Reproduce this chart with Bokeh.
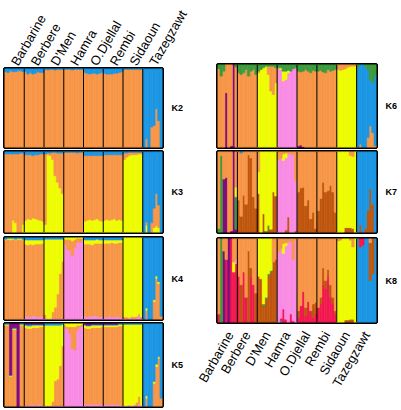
import math
import numpy as np
from bokeh.plotting import figure
from bokeh.models import ColumnDataSource, LinearAxis, FixedTicker, Range1d
from bokeh.layouts import row, column
from bokeh.embed import file_html
from bokeh.resources import INLINE

populations = ["Barbarine", "Berbere", "D'Men", "Hamra", "O.Djellal", "Rembi", "Sidaoun", "Tazegzawt"]
individuals_per_population = [8, 8, 8, 8, 8, 8, 8, 8]

ORANGE = "#F79646"
BLUE = "#1B96E3"
YELLOW = "#EEFC00"
PINK = "#F98BE4"
PURPLE = "#7E0B80"
GREEN = "#3C9A3C"
BROWN = "#BF560D"
RED = "#F2184F"

# ---------------- K2 (stack order bottom -> top: orange, blue)
k2_orange = [
    96, 95, 97, 96, 96, 97, 97, 96,
    96, 93, 95, 93, 94, 96, 95, 95,
    99, 98, 99, 99, 98, 99, 99, 99,
    99, 99, 99, 98, 99, 99, 99, 99,
    95, 94, 93, 94, 94, 93, 94, 95,
    94, 93, 93, 93, 94, 94, 95, 96,
    99, 99, 99, 99, 99, 99, 99, 99,
    0, 11, 0, 26, 28, 49, 34, 0,
]
k2_blue = [
    4, 5, 3, 4, 4, 3, 3, 4,
    4, 7, 5, 7, 6, 4, 5, 5,
    1, 2, 1, 1, 2, 1, 1, 1,
    1, 1, 1, 2, 1, 1, 1, 1,
    5, 6, 7, 6, 6, 7, 6, 5,
    6, 7, 7, 7, 6, 6, 5, 4,
    1, 1, 1, 1, 1, 1, 1, 1,
    100, 89, 100, 74, 72, 51, 66, 100,
]

# ---------------- K3 (yellow, orange, blue)
k3_yellow = [
    0, 0, 0, 15, 12, 0, 0, 10,
    15, 17, 16, 18, 17, 16, 15, 14,
    10, 96, 95, 90, 70, 62, 55, 48,
    0, 0, 0, 0, 0, 0, 0, 0,
    14, 15, 16, 15, 16, 17, 15, 14,
    15, 16, 15, 16, 17, 15, 16, 15,
    90, 93, 95, 96, 96, 96, 97, 97,
    0, 9, 0, 0, 6, 8, 6, 0,
]
k3_orange = [
    97, 97, 97, 82, 85, 97, 98, 88,
    81, 79, 80, 77, 79, 80, 82, 83,
    87, 2, 3, 9, 29, 36, 43, 50,
    99, 99, 99, 99, 99, 98, 99, 99,
    81, 80, 79, 80, 79, 78, 80, 81,
    81, 80, 81, 80, 79, 81, 80, 81,
    8, 5, 4, 3, 3, 3, 2, 2,
    0, 4, 0, 12, 24, 40, 28, 0,
]
k3_blue = [
    3, 3, 3, 3, 3, 3, 2, 2,
    4, 4, 4, 5, 4, 4, 3, 3,
    3, 2, 2, 1, 1, 2, 2, 2,
    1, 1, 1, 1, 1, 2, 1, 1,
    5, 5, 5, 5, 5, 5, 5, 5,
    4, 4, 4, 4, 4, 4, 4, 4,
    2, 2, 1, 1, 1, 1, 1, 1,
    100, 87, 100, 88, 70, 52, 66, 100,
]

# ---------------- K4 (pink, orange, yellow, blue)
k4_pink = [
    0, 0, 0, 0, 0, 0, 0, 0,
    4, 4, 3, 5, 4, 3, 4, 3,
    1, 1, 1, 1, 1, 1, 1, 1,
    92, 86, 84, 78, 88, 94, 94, 96,
    4, 3, 4, 4, 5, 4, 3, 4,
    3, 3, 4, 3, 3, 4, 3, 2,
    1, 1, 1, 2, 1, 2, 5, 1,
    0, 1, 0, 0, 0, 0, 0, 0,
]
k4_orange = [
    97, 98, 97, 98, 97, 98, 98, 97,
    88, 87, 89, 86, 88, 89, 88, 90,
    5, 0, 0, 8, 14, 30, 55, 70,
    6, 12, 14, 18, 10, 5, 5, 3,
    88, 89, 88, 87, 88, 89, 90, 89,
    90, 90, 89, 91, 90, 89, 91, 92,
    2, 2, 1, 2, 2, 2, 2, 2,
    0, 10, 0, 0, 22, 50, 44, 4,
]
k4_yellow = [
    1, 1, 2, 1, 1, 1, 1, 1,
    5, 6, 5, 6, 5, 5, 5, 4,
    92, 97, 97, 89, 83, 67, 42, 27,
    2, 2, 2, 4, 2, 1, 1, 1,
    5, 5, 5, 6, 4, 5, 4, 4,
    4, 4, 4, 3, 4, 4, 3, 3,
    97, 97, 98, 96, 97, 96, 93, 97,
    0, 3, 0, 0, 2, 3, 2, 0,
]
k4_blue = [
    2, 1, 1, 1, 2, 1, 1, 2,
    3, 3, 3, 3, 3, 3, 3, 3,
    2, 2, 2, 2, 2, 2, 2, 2,
    0, 0, 0, 0, 0, 0, 0, 0,
    3, 3, 3, 3, 3, 2, 3, 3,
    3, 3, 3, 3, 3, 3, 3, 3,
    0, 0, 0, 0, 0, 0, 0, 0,
    100, 86, 100, 100, 76, 47, 54, 96,
]

# ---------------- K5 (pink, orange, yellow, blue, purple)
k5_pink = [
    0, 0, 0, 0, 0, 0, 0, 0,
    2, 1, 2, 2, 1, 2, 2, 1,
    1, 1, 1, 1, 1, 1, 1, 1,
    96, 94, 88, 70, 68, 92, 96, 97,
    3, 2, 3, 3, 2, 3, 2, 3,
    2, 2, 2, 3, 2, 2, 2, 2,
    1, 1, 2, 1, 2, 1, 3, 1,
    0, 0, 0, 0, 0, 0, 0, 0,
]
k5_orange = [
    98, 98, 36, 93, 93, 0, 98, 98,
    93, 93, 92, 93, 94, 93, 94, 95,
    0, 0, 0, 5, 30, 32, 48, 72,
    2, 2, 8, 26, 28, 6, 2, 2,
    92, 92, 91, 92, 93, 92, 93, 93,
    94, 94, 94, 93, 94, 94, 95, 95,
    0, 0, 0, 0, 0, 4, 9, 0,
    0, 10, 0, 0, 28, 48, 58, 10,
]
k5_yellow = [
    1, 1, 1, 1, 1, 0, 1, 1,
    3, 3, 3, 3, 3, 3, 2, 2,
    97, 97, 97, 92, 67, 65, 49, 26,
    2, 4, 4, 4, 4, 2, 2, 1,
    3, 3, 3, 3, 3, 3, 3, 2,
    2, 2, 2, 2, 2, 2, 2, 2,
    98, 98, 97, 98, 97, 94, 87, 98,
    0, 3, 0, 0, 2, 3, 2, 0,
]
k5_blue = [
    1, 1, 1, 1, 1, 0, 1, 1,
    1, 2, 2, 1, 1, 1, 1, 1,
    2, 2, 2, 2, 2, 2, 2, 1,
    0, 0, 0, 0, 0, 0, 0, 0,
    1, 1, 1, 1, 1, 1, 1, 1,
    1, 1, 1, 1, 1, 1, 1, 1,
    1, 1, 1, 1, 1, 1, 1, 1,
    100, 87, 100, 100, 70, 49, 40, 90,
]
k5_purple = [
    0, 0, 62, 5, 5, 100, 0, 0,
    1, 1, 1, 1, 1, 1, 1, 1,
    0, 0, 0, 0, 0, 0, 0, 0,
    0, 0, 0, 0, 0, 0, 0, 0,
    1, 2, 2, 1, 1, 1, 1, 1,
    1, 1, 1, 1, 1, 1, 0, 0,
    0, 0, 0, 0, 0, 0, 0, 0,
    0, 0, 0, 0, 0, 0, 0, 0,
]

# ---------------- K6 (purple, pink, yellow, orange, blue, green)
k6_purple = [
    0, 0, 0, 66, 0, 2, 100, 0,
    0, 0, 0, 0, 0, 0, 0, 0,
    0, 0, 0, 0, 0, 0, 0, 0,
    0, 0, 0, 0, 0, 0, 0, 0,
    2, 3, 1, 0, 0, 0, 0, 0,
    0, 0, 0, 0, 0, 0, 0, 0,
    0, 0, 0, 0, 0, 0, 0, 0,
    0, 0, 0, 0, 0, 0, 0, 0,
]
k6_pink = [
    0, 0, 0, 0, 0, 0, 0, 0,
    0, 0, 0, 0, 0, 0, 0, 0,
    0, 0, 0, 0, 0, 0, 0, 0,
    96, 94, 80, 82, 90, 92, 95, 96,
    0, 0, 0, 0, 0, 0, 0, 0,
    0, 0, 0, 0, 0, 0, 0, 0,
    0, 0, 0, 0, 0, 0, 0, 0,
    0, 0, 0, 0, 0, 0, 0, 0,
]
k6_yellow = [
    0, 0, 0, 0, 0, 0, 0, 0,
    0, 0, 0, 0, 0, 0, 0, 0,
    90, 94, 96, 98, 88, 68, 64, 78,
    0, 2, 12, 10, 3, 0, 0, 0,
    0, 0, 0, 0, 0, 0, 0, 0,
    0, 0, 0, 0, 0, 0, 0, 0,
    94, 93, 94, 95, 97, 98, 98, 98,
    0, 0, 0, 0, 0, 0, 0, 0,
]
k6_orange = [
    95, 86, 92, 34, 100, 98, 0, 97,
    90, 88, 90, 94, 86, 92, 94, 88,
    2, 0, 0, 0, 10, 30, 34, 18,
    0, 0, 0, 0, 0, 0, 0, 0,
    90, 88, 91, 94, 92, 90, 93, 92,
    92, 93, 91, 90, 94, 92, 93, 94,
    6, 7, 6, 5, 3, 2, 2, 2,
    0, 4, 0, 0, 12, 26, 18, 2,
]
k6_blue = [
    0, 0, 0, 0, 0, 0, 0, 0,
    0, 0, 0, 0, 0, 0, 0, 0,
    0, 0, 0, 0, 0, 0, 0, 0,
    0, 0, 0, 0, 0, 0, 0, 0,
    0, 0, 0, 0, 0, 0, 0, 0,
    0, 0, 0, 0, 0, 0, 0, 0,
    0, 0, 0, 0, 0, 0, 0, 0,
    96, 96, 100, 98, 82, 56, 60, 84,
]
k6_green = [
    5, 14, 8, 0, 0, 0, 0, 3,
    10, 12, 10, 6, 14, 8, 6, 12,
    8, 6, 4, 2, 2, 2, 2, 4,
    4, 4, 8, 8, 7, 8, 5, 4,
    8, 9, 8, 6, 8, 10, 7, 8,
    8, 7, 9, 10, 6, 8, 7, 6,
    0, 0, 0, 0, 0, 0, 0, 0,
    4, 0, 0, 2, 6, 18, 22, 14,
]

# ---------------- K7 (brown, purple, green, pink, yellow, orange, blue)
k7_brown = [
    0, 0, 0, 0, 0, 0, 0, 0,
    40, 20, 46, 35, 96, 92, 44, 30,
    48, 0, 23, 0, 5, 4, 50, 45,
    0, 0, 0, 3, 19, 0, 0, 2,
    50, 55, 56, 33, 40, 17, 25, 5,
    27, 42, 62, 50, 52, 58, 50, 25,
    0, 0, 0, 6, 6, 6, 5, 0,
    0, 10, 0, 5, 27, 54, 35, 0,
]
k7_purple = [
    0, 0, 66, 68, 0, 2, 100, 4,
    0, 0, 0, 0, 0, 0, 0, 0,
    0, 0, 0, 0, 0, 0, 0, 0,
    0, 0, 0, 0, 0, 0, 0, 0,
    0, 0, 0, 0, 0, 0, 0, 0,
    0, 0, 0, 0, 0, 0, 0, 0,
    0, 0, 0, 0, 0, 0, 0, 0,
    0, 0, 0, 0, 0, 0, 0, 0,
]
k7_green = [
    5, 95, 0, 0, 0, 0, 0, 40,
    0, 0, 0, 0, 0, 0, 0, 0,
    0, 0, 0, 2, 4, 0, 0, 0,
    0, 0, 0, 0, 0, 0, 0, 0,
    0, 0, 0, 0, 0, 0, 0, 0,
    0, 0, 0, 0, 0, 0, 0, 0,
    0, 0, 0, 0, 0, 0, 0, 0,
    0, 0, 0, 0, 0, 0, 0, 0,
]
k7_pink = [
    0, 0, 0, 0, 0, 0, 0, 0,
    0, 0, 0, 0, 0, 0, 0, 0,
    0, 0, 0, 0, 0, 0, 0, 0,
    90, 92, 89, 89, 79, 97, 96, 62,
    0, 0, 0, 0, 0, 0, 0, 0,
    0, 0, 0, 0, 0, 0, 0, 0,
    0, 0, 0, 0, 0, 0, 0, 0,
    0, 0, 0, 0, 0, 0, 0, 0,
]
k7_yellow = [
    0, 0, 0, 0, 0, 0, 0, 12,
    0, 0, 0, 0, 0, 0, 0, 0,
    27, 100, 77, 98, 91, 96, 50, 55,
    0, 0, 8, 6, 0, 0, 0, 0,
    0, 0, 0, 0, 0, 0, 0, 0,
    0, 0, 0, 0, 0, 0, 0, 0,
    100, 100, 100, 94, 94, 89, 89, 100,
    0, 0, 0, 0, 0, 0, 0, 0,
]
k7_orange = [
    95, 5, 34, 32, 100, 98, 0, 44,
    60, 78, 54, 65, 4, 8, 56, 70,
    25, 0, 0, 0, 0, 0, 0, 0,
    10, 8, 3, 2, 2, 3, 4, 36,
    50, 45, 44, 67, 60, 83, 75, 95,
    73, 58, 38, 50, 48, 42, 50, 75,
    0, 0, 0, 0, 0, 5, 6, 0,
    0, 0, 0, 0, 0, 0, 0, 0,
]
k7_blue = [
    0, 0, 0, 0, 0, 0, 0, 0,
    0, 2, 0, 0, 0, 0, 0, 0,
    0, 0, 0, 0, 0, 0, 0, 0,
    0, 0, 0, 0, 0, 0, 0, 0,
    0, 0, 0, 0, 0, 0, 0, 0,
    0, 0, 0, 0, 0, 0, 0, 0,
    0, 0, 0, 0, 0, 0, 0, 0,
    100, 90, 100, 95, 73, 46, 65, 100,
]

# ---------------- K8 (blue, red, brown, purple, green, pink, yellow, orange)
k8_blue = [
    0, 0, 0, 0, 0, 0, 0, 0,
    0, 0, 0, 0, 0, 0, 0, 0,
    0, 0, 0, 0, 0, 0, 0, 0,
    0, 2, 0, 0, 0, 0, 0, 0,
    0, 0, 0, 0, 0, 0, 0, 0,
    0, 0, 0, 0, 0, 0, 0, 0,
    0, 0, 0, 0, 0, 0, 0, 0,
    100, 90, 92, 100, 100, 50, 58, 100,
]
k8_red = [
    10, 0, 0, 75, 0, 100, 60, 70,
    55, 0, 60, 30, 0, 55, 45, 0,
    0, 0, 0, 0, 0, 0, 0, 0,
    0, 3, 16, 4, 0, 10, 2, 0,
    6, 20, 37, 8, 25, 14, 6, 10,
    18, 22, 45, 40, 55, 30, 22, 10,
    0, 0, 0, 0, 0, 0, 0, 0,
    0, 10, 8, 0, 0, 0, 0, 0,
]
k8_brown = [
    0, 0, 0, 0, 0, 0, 0, 0,
    0, 45, 0, 0, 85, 10, 0, 35,
    55, 52, 20, 28, 55, 60, 72, 75,
    0, 0, 0, 0, 0, 0, 0, 0,
    8, 0, 0, 10, 0, 0, 16, 14,
    0, 8, 20, 10, 8, 15, 8, 4,
    0, 0, 0, 3, 3, 4, 4, 0,
    0, 0, 0, 0, 0, 45, 42, 0,
]
k8_purple = [
    0, 0, 85, 0, 100, 0, 0, 0,
    0, 0, 0, 0, 0, 0, 0, 0,
    0, 0, 0, 0, 0, 0, 0, 0,
    0, 0, 0, 0, 0, 0, 0, 0,
    0, 0, 0, 0, 0, 0, 0, 0,
    0, 0, 0, 0, 0, 0, 0, 0,
    0, 0, 0, 0, 0, 0, 0, 0,
    0, 0, 0, 0, 0, 0, 0, 0,
]
k8_green = [
    0, 100, 0, 0, 0, 0, 0, 0,
    0, 0, 0, 0, 0, 0, 0, 0,
    0, 0, 2, 2, 3, 2, 0, 0,
    0, 0, 0, 0, 0, 0, 0, 0,
    0, 0, 0, 0, 0, 0, 0, 0,
    0, 0, 0, 0, 0, 0, 0, 0,
    0, 0, 0, 0, 0, 0, 0, 0,
    0, 0, 0, 0, 0, 0, 0, 0,
]
k8_pink = [
    0, 0, 0, 0, 0, 0, 0, 5,
    0, 0, 0, 0, 0, 0, 0, 0,
    0, 0, 0, 0, 0, 0, 0, 0,
    84, 83, 66, 87, 96, 86, 73, 98,
    0, 0, 0, 0, 0, 0, 0, 0,
    0, 0, 0, 0, 0, 0, 0, 0,
    0, 0, 0, 0, 0, 0, 0, 0,
    0, 0, 0, 0, 0, 0, 0, 0,
]
k8_yellow = [
    0, 0, 0, 0, 0, 0, 12, 0,
    0, 0, 0, 0, 0, 0, 0, 0,
    45, 48, 78, 70, 42, 38, 0, 0,
    0, 0, 12, 4, 0, 0, 0, 0,
    0, 0, 0, 0, 0, 0, 0, 0,
    0, 0, 0, 0, 0, 0, 0, 0,
    97, 98, 100, 97, 97, 94, 86, 100,
    0, 0, 0, 0, 0, 0, 0, 0,
]
k8_orange = [
    90, 0, 15, 25, 0, 0, 28, 25,
    45, 55, 40, 70, 15, 35, 55, 65,
    0, 0, 0, 0, 0, 0, 28, 25,
    16, 12, 6, 5, 4, 4, 25, 2,
    86, 80, 63, 82, 75, 86, 78, 76,
    82, 70, 35, 50, 37, 55, 70, 86,
    3, 2, 0, 0, 0, 2, 10, 0,
    0, 0, 0, 0, 0, 5, 0, 0,
]

panels = {
    "K2": ([k2_orange, k2_blue], [ORANGE, BLUE]),
    "K3": ([k3_yellow, k3_orange, k3_blue], [YELLOW, ORANGE, BLUE]),
    "K4": ([k4_pink, k4_orange, k4_yellow, k4_blue], [PINK, ORANGE, YELLOW, BLUE]),
    "K5": ([k5_pink, k5_orange, k5_yellow, k5_blue, k5_purple], [PINK, ORANGE, YELLOW, BLUE, PURPLE]),
    "K6": ([k6_purple, k6_pink, k6_yellow, k6_orange, k6_blue, k6_green],
           [PURPLE, PINK, YELLOW, ORANGE, BLUE, GREEN]),
    "K7": ([k7_brown, k7_purple, k7_green, k7_pink, k7_yellow, k7_orange, k7_blue],
           [BROWN, PURPLE, GREEN, PINK, YELLOW, ORANGE, BLUE]),
    "K8": ([k8_blue, k8_red, k8_brown, k8_purple, k8_green, k8_pink, k8_yellow, k8_orange],
           [BLUE, RED, BROWN, PURPLE, GREEN, PINK, YELLOW, ORANGE]),
}

LABEL_FONT = "Liberation Sans"


def pop_axis(standoff):
    counts = np.array(individuals_per_population)
    ends = np.cumsum(counts)
    centers = [int(e - c // 2) for e, c in zip(ends, counts)]
    ax = LinearAxis(ticker=FixedTicker(ticks=centers),
                    major_label_overrides={c: name for c, name in zip(centers, populations)})
    ax.axis_line_color = None
    ax.major_tick_line_color = None
    ax.minor_tick_line_color = None
    ax.major_tick_out = 0
    ax.major_tick_in = 0
    ax.minor_tick_out = 0
    ax.minor_tick_in = 0
    ax.major_label_standoff = standoff
    ax.major_label_orientation = math.radians(60)
    ax.major_label_text_font = LABEL_FONT
    ax.major_label_text_font_size = "13px"
    ax.major_label_text_color = "black"
    return ax


def make_panel(label, width, height, mb_left, mb_right, mb_top, mb_bottom, pop_loc=None,
               pop_standoff=4, standoff=9):
    clusters, colors = panels[label]
    n = int(sum(individuals_per_population))
    arr = np.array(clusters, dtype=float)
    q = arr / arr.sum(axis=0)
    tops = np.cumsum(q, axis=0)
    bottoms = tops - q
    data = {"left": [], "right": [], "bottom": [], "top": [], "color": []}
    for k in range(len(clusters)):
        for i in range(n):
            if q[k, i] > 0:
                data["left"].append(i)
                data["right"].append(i + 1)
                data["bottom"].append(float(bottoms[k, i]))
                data["top"].append(float(tops[k, i]))
                data["color"].append(colors[k])
    p = figure(width=width, height=height, x_range=Range1d(0, n), y_range=Range1d(0, 1),
               x_axis_type=None, y_axis_type=None, toolbar_location=None,
               output_backend="svg", min_border_left=mb_left, min_border_right=mb_right,
               min_border_top=mb_top, min_border_bottom=mb_bottom)
    p.quad(source=ColumnDataSource(data), left="left", right="right", bottom="bottom",
           top="top", fill_color="color", line_color="color", line_width=0.6)
    bounds = np.cumsum(individuals_per_population)[:-1]
    p.segment(x0=list(bounds), y0=[0] * len(bounds), x1=list(bounds), y1=[1] * len(bounds),
              line_color="black", line_width=1)
    p.outline_line_color = "black"
    p.outline_line_width = 3
    p.outline_line_alpha = 1.0
    p.background_fill_color = "white"
    p.border_fill_color = "white"

    kax = LinearAxis(ticker=FixedTicker(ticks=[0.5]), major_label_overrides={0.5: label})
    kax.axis_line_color = None
    kax.major_tick_line_color = None
    kax.minor_tick_line_color = None
    kax.major_tick_out = 0
    kax.major_tick_in = 0
    kax.minor_tick_out = 0
    kax.minor_tick_in = 0
    kax.major_label_standoff = standoff
    kax.major_label_text_font = LABEL_FONT
    kax.major_label_text_font_style = "bold"
    kax.major_label_text_font_size = "9px"
    kax.major_label_text_color = "black"
    p.add_layout(kax, "right")

    if pop_loc is not None:
        p.add_layout(pop_axis(pop_standoff), pop_loc)
    return p


LW, RW = 195, 205
k2 = make_panel("K2", LW, 149, 4, 33, 64, 2, pop_loc="above", pop_standoff=4)
k3 = make_panel("K3", LW, 86, 4, 33, 2, 3)
k4 = make_panel("K4", LW, 86, 4, 33, 2, 2)
k5 = make_panel("K5", LW, 87, 4, 33, 2, 2)
k6 = make_panel("K6", RW, 149, 22, 23, 64, 2)
k7 = make_panel("K7", RW, 86, 22, 23, 2, 3)
k8 = make_panel("K8", RW, 167, 22, 23, 3, 80, pop_loc="below", pop_standoff=10)

layout = row(column(k2, k3, k4, k5, spacing=0), column(k6, k7, k8, spacing=0), spacing=0)

open("out.html", "w").write(file_html(layout, INLINE))
